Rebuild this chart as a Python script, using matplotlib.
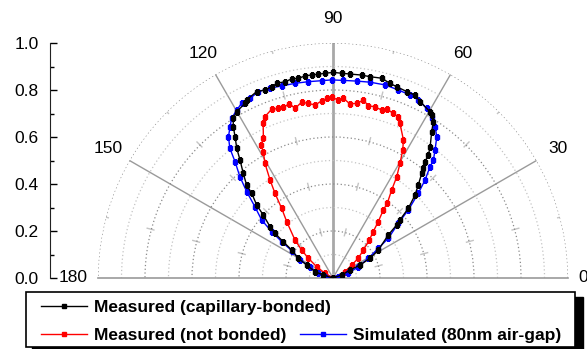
import numpy as np
import matplotlib
matplotlib.use('Agg')
from matplotlib import pyplot as plt
from matplotlib.patches import Rectangle
from matplotlib.ticker import FixedLocator

plt.rcParams['font.family'] = ['Liberation Sans', 'DejaVu Sans']

# angle (deg) / normalised intensity
bonded_deg = [0, 19, 25.2, 25.7, 28, 31.7, 37.9, 39.8, 40.9, 42.8, 45.3, 47.5, 49.7, 50.5,
              51.7, 52.2, 53.5, 56, 57.3, 58.8, 59.7, 63.7, 65.9, 68.4, 71.6, 73.7, 76.3,
              79.6, 82, 85.2, 87.6, 89.9, 92.2, 94.1, 96, 97.9, 99.9, 101.7, 103.7, 106.1,
              107.8, 109.9, 112.3, 115.9, 116.7, 120.1, 122, 123.4, 124.7, 126.6, 128.2,
              130.6, 132.9, 133.8, 136.3, 137.9, 140.8, 142.4, 143.9, 145.9, 150.4, 153.7,
              160.7, 162.8, 180]
bonded_r = [0, 0.039, 0.08, 0.128, 0.178, 0.227, 0.298, 0.353, 0.377, 0.437, 0.496, 0.537,
            0.584, 0.605, 0.631, 0.662, 0.695, 0.751, 0.79, 0.811, 0.819, 0.837, 0.853, 0.853,
            0.858, 0.863, 0.875, 0.871, 0.872, 0.871, 0.872, 0.875, 0.872, 0.869, 0.869, 0.868,
            0.862, 0.865, 0.86, 0.862, 0.855, 0.851, 0.857, 0.842, 0.832, 0.818, 0.801, 0.771,
            0.732, 0.687, 0.64, 0.587, 0.54, 0.5, 0.449, 0.4, 0.346, 0.312, 0.262, 0.212, 0.17,
            0.125, 0.081, 0.043, 0]

notbonded_deg = [0, 27.7, 34.8, 37.9, 42.7, 46.3, 49, 51.2, 53.5, 54, 56.3, 57.8, 59.7, 61.4,
                 63, 66.6, 68, 69.9, 72.4, 73.8, 76.2, 78.4, 80.3, 82.3, 84.4, 86.7, 88.3,
                 90.4, 92, 93.6, 95.9, 98, 100.1, 102.6, 104.1, 106.2, 107.9, 110, 112.9,
                 114.3, 116.5, 118.4, 118.9, 120.7, 122.7, 124.4, 126.4, 129.4, 135, 138.2,
                 141.4, 145.3, 149.6, 180]
notbonded_r = [0, 0.058, 0.097, 0.136, 0.176, 0.224, 0.26, 0.307, 0.36, 0.393, 0.45, 0.509,
               0.565, 0.62, 0.66, 0.717, 0.74, 0.746, 0.755, 0.744, 0.75, 0.748, 0.768, 0.75,
               0.744, 0.766, 0.758, 0.769, 0.765, 0.756, 0.74, 0.75, 0.76, 0.74, 0.765, 0.756,
               0.758, 0.764, 0.745, 0.722, 0.664, 0.644, 0.614, 0.567, 0.496, 0.437, 0.368,
               0.31, 0.229, 0.179, 0.134, 0.084, 0.04, 0]

sim_deg = [0, 7.5, 17.1, 24.1, 29.2, 33.2, 35.7, 39.9, 42.1, 44.8, 46.8, 48.9, 49.6, 51.4,
           53.7, 56, 58.3, 61.1, 64.4, 67.2, 70.8, 74.9, 79.3, 83.1, 87, 90.4, 93.3, 97.2,
           101, 105, 108.4, 111.8, 114.8, 117.6, 119.8, 122.4, 124.2, 126.5, 128.5, 130.1,
           132.6, 135, 137.6, 140.9, 142.9, 144.7, 146.5, 151.4, 153.8, 162.3, 170.8, 180]
sim_r = [0, 0.023, 0.068, 0.118, 0.172, 0.23, 0.29, 0.362, 0.432, 0.512, 0.572, 0.628, 0.659,
         0.696, 0.746, 0.777, 0.799, 0.825, 0.84, 0.845, 0.847, 0.851, 0.848, 0.844, 0.842,
         0.843, 0.841, 0.842, 0.844, 0.846, 0.851, 0.854, 0.842, 0.839, 0.824, 0.805, 0.779,
         0.748, 0.705, 0.647, 0.585, 0.519, 0.45, 0.391, 0.327, 0.267, 0.211, 0.16, 0.109,
         0.066, 0.034, 0]

angle_labels = [0, 30, 60, 90, 120, 150, 180]
r_ticks = [0.0, 0.2, 0.4, 0.6, 0.8, 1.0]

label_font = {"size": 12.5}
legend_font = {"weight": "bold", "size": 12.5}

W, H = 587, 349
fig = plt.figure(figsize=(W / 100, H / 100), dpi=100)

# half polar plot, centre at (333, 278) px, radius 235 px
# (square box, the half disc sits in its middle)
ax = fig.add_axes([98 / W, (71 - 117.5) / H, 470 / W, 470 / H], projection='polar')
ax.set_thetamin(0)
ax.set_thetamax(180)
ax.set_rlim(0, 1)
ax.set_yticks([0.2, 0.4, 0.6, 0.8, 1.0])
ax.yaxis.set_minor_locator(FixedLocator([0.1, 0.3, 0.5, 0.7, 0.9]))
ax.set_yticklabels([])
ax.set_xticks(np.radians([30, 60, 120, 150]))
ax.xaxis.set_minor_locator(FixedLocator(np.radians([15, 45, 75, 105, 135, 165])))
ax.set_xticklabels([])
ax.tick_params(axis='both', which='both', length=0)
ax.grid(True, which='major', axis='x', color='#9a9a9a', lw=1, ls='-')
ax.grid(True, which='minor', axis='x', color='#c4c4c4', lw=1, ls=(3, (6, 28)))
ax.grid(True, which='major', axis='y', color='#8a8a8a', lw=0.9, ls=(0, (1, 2)))
ax.grid(True, which='minor', axis='y', color='#c4c4c4', lw=0.9, ls=(0, (1, 2)))
ax.axvline(np.radians(90), color='#a8a8a8', lw=2, zorder=1)
ax.spines['polar'].set_visible(False)
ax.spines['inner'].set_visible(False)
for s in ['start', 'end']:
    ax.spines[s].set_color('#9a9a9a')
    ax.spines[s].set_linewidth(1.2)

for a in angle_labels:
    rr = 1.065 if a == 0 else 1.105
    ax.text(np.radians(a), rr, str(a), ha='center', va='center', fontdict=label_font)

l1, = ax.plot(np.radians(bonded_deg), bonded_r, color='black', lw=1, marker='s', ms=2.4,
              label='Measured (capillary-bonded)', zorder=4)
l2, = ax.plot(np.radians(notbonded_deg), notbonded_r, color='#ff0000', lw=1, marker='s', ms=2.4,
              label='Measured (not bonded)', zorder=3)
l3, = ax.plot(np.radians(sim_deg), sim_r, color='#0000ff', lw=1, marker='s', ms=2.4,
              label='Simulated (80nm air-gap)', zorder=3)

# left scale
ax_r = fig.add_axes([50 / W, 71 / H, 0.001, 235 / H])
ax_r.set_ylim(0, 1)
ax_r.set_yticks(r_ticks)
ax_r.set_yticks([0.1, 0.3, 0.5, 0.7, 0.9], minor=True)
ax_r.yaxis.set_major_formatter('{x:.1f}')
ax_r.tick_params(axis='y', which='major', direction='in', length=5, width=1, pad=8, labelsize=12.5)
ax_r.tick_params(axis='y', which='minor', direction='in', length=3, width=1)
ax_r.set_xticks([])
for s in ['top', 'right', 'bottom']:
    ax_r.spines[s].set_visible(False)
ax_r.spines['left'].set_color('#222222')
ax_r.patch.set_visible(False)

# legend box with shadow
fig.add_artist(Rectangle((32 / W, -3 / H), 551 / W, 55 / H, transform=fig.transFigure,
                         fc='black', ec='black', zorder=5))
fig.add_artist(Rectangle((26 / W, 2 / H), 549 / W, 55 / H, transform=fig.transFigure,
                         fc='white', ec='black', lw=1.2, zorder=6))

for handle, x, y in [(l1, 41, 41.5), (l2, 41, 13.5), (l3, 300, 13.5)]:
    leg = fig.legend(handles=[handle], loc='center left', bbox_to_anchor=(x / W, y / H),
                     frameon=False, prop=legend_font, borderpad=0, borderaxespad=0,
                     handlelength=2.65, handletextpad=0.4, numpoints=1)
    leg.set_zorder(7)

fig.savefig('out.png', dpi=100)
